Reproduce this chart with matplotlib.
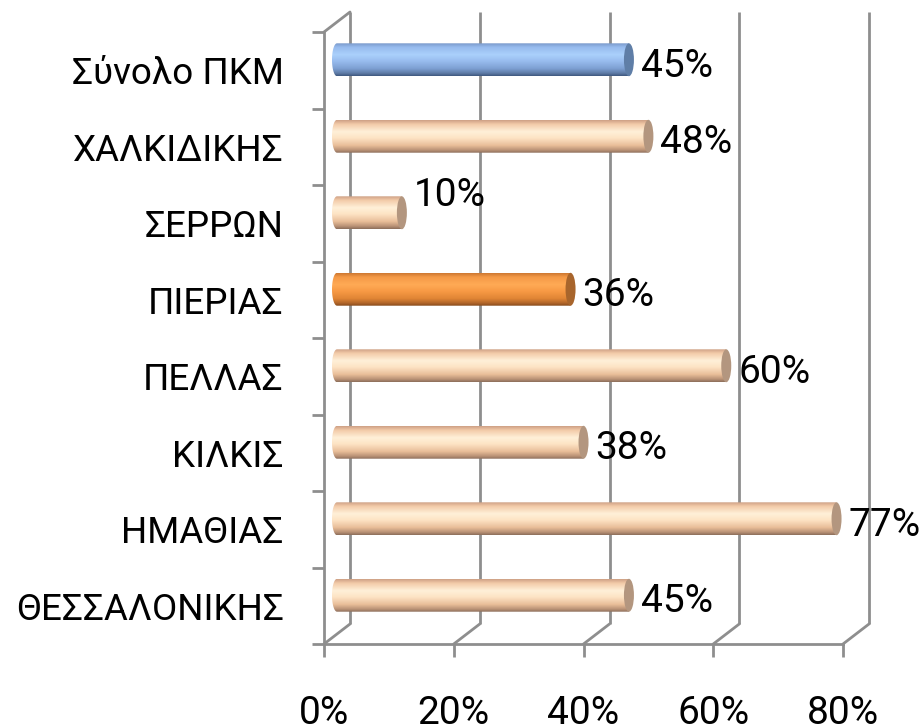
import numpy as np
from matplotlib import pyplot as plt
from matplotlib import transforms as mtransforms
from matplotlib.colors import LinearSegmentedColormap
from matplotlib.patches import Ellipse, Polygon, ConnectionPatch

plt.rcParams['font.family'] = ['Roboto', 'DejaVu Sans']

# data, bottom to top as drawn
categories = ['ΘΕΣΣΑΛΟΝΙΚΗΣ', 'ΗΜΑΘΙΑΣ', 'ΚΙΛΚΙΣ', 'ΠΕΛΛΑΣ',
              'ΠΙΕΡΙΑΣ', 'ΣΕΡΡΩΝ', 'ΧΑΛΚΙΔΙΚΗΣ', 'Σύνολο ΠΚΜ']
values = [0.45, 0.77, 0.38, 0.60, 0.36, 0.10, 0.48, 0.45]
bar_kind = ['peach', 'peach', 'peach', 'peach', 'orange', 'peach', 'peach', 'blue']
x_ticks = [0.0, 0.2, 0.4, 0.6, 0.8]

# cylinder shading, top edge -> bottom edge, plus the end cap colour
shades = {
    'peach': (['#cfa186', '#f3cba9', '#fff0d8', '#fde3c4', '#e8bd98', '#b99276', '#8e6f5c'], '#b3967f'),
    'blue': (['#7a9acb', '#97bbee', '#aad0fb', '#98bcee', '#7d9fd2', '#5f7ca7', '#405a80'], '#5f7ea7'),
    'orange': (['#cf7932', '#f59a47', '#ffaa55', '#f89a45', '#e08535', '#b0652a', '#874b1c'], '#a8652c'),
}
stops = [0.0, 0.12, 0.35, 0.55, 0.78, 0.92, 1.0]

grid_col = '#8e8e8e'
fs = 28

fig = plt.figure(figsize=(9.23, 7.28), dpi=100)
ax = fig.add_axes([324 / 923, 84 / 728, 519 / 923, 612 / 728])

back = mtransforms.offset_copy(ax.transData, fig=fig, x=26, y=20, units='dots')
mid = mtransforms.offset_copy(ax.transData, fig=fig, x=13, y=10.5, units='dots')

# back wall gridlines + floor/top diagonals
for xv in x_ticks:
    ax.plot([xv, xv], [-0.5, 7.5], color=grid_col, lw=2, transform=back,
            clip_on=False, zorder=1, solid_capstyle='butt')
    cp = ConnectionPatch(xyA=(xv, -0.5), coordsA=ax.transData, xyB=(xv, -0.5),
                         coordsB=back, color=grid_col, lw=2, zorder=1)
    ax.add_artist(cp)
cp = ConnectionPatch(xyA=(0, 7.5), coordsA=ax.transData, xyB=(0, 7.5),
                     coordsB=back, color=grid_col, lw=2, zorder=1)
ax.add_artist(cp)

# cylinders
h = 0.43
cap_w = 10 / 648.75
for i, (v, kind) in enumerate(zip(values, bar_kind)):
    cols, cap_col = shades[kind]
    cmap = LinearSegmentedColormap.from_list(kind, list(zip(stops, cols)))
    grad = np.linspace(0, 1, 64).reshape(-1, 1)
    y0, y1 = i - h / 2, i + h / 2
    im = ax.imshow(grad, cmap=cmap, aspect='auto', extent=(-cap_w / 2, v, y0, y1),
                   origin='upper', interpolation='bilinear', zorder=3)
    im.set_transform(mid)
    # rounded left end
    ang = np.linspace(-np.pi / 2, -3 * np.pi / 2, 40)
    left = np.column_stack([cap_w / 2 * np.cos(ang), i + h / 2 * np.sin(ang)])
    outline = np.vstack([[[0, y1], [v, y1], [v, y0], [0, y0]], left[1:-1]])
    clip = Polygon(outline, closed=True, transform=mid, facecolor='none', edgecolor='none')
    ax.add_patch(clip)
    im.set_clip_path(clip)
    # flat end cap
    ax.add_patch(Ellipse((v, i), cap_w, h, facecolor=cap_col, edgecolor='none',
                         transform=mid, zorder=4, clip_on=False))
    dy = 28 if v < 0.15 else 4
    ax.annotate(f'{v:.0%}', xy=(v, i), xycoords='data', xytext=(25, dy),
                textcoords='offset pixels', ha='left', va='center',
                fontsize=fs, zorder=5, annotation_clip=False)

ax.set_xlim(0, 0.8)
ax.set_ylim(-0.5, 7.5)

# axes / ticks
for s in ['top', 'right']:
    ax.spines[s].set_visible(False)
for s in ['left', 'bottom']:
    ax.spines[s].set_color(grid_col)
    ax.spines[s].set_linewidth(2)

ax.set_yticks(range(len(categories)))
ax.set_yticklabels(categories)
ax.set_yticks(np.arange(-0.5, len(categories)), minor=True)
ax.tick_params(axis='y', which='major', length=0, pad=29, labelsize=26.5)
ax.tick_params(axis='y', which='minor', length=8.6, width=2, color=grid_col)

ax.set_xticks(x_ticks)
ax.set_xticklabels([f'{t:.0%}' for t in x_ticks])
ax.tick_params(axis='x', which='major', length=9.4, width=2, color=grid_col,
               pad=27, labelsize=fs)

fig.savefig('out.png', dpi=100)
